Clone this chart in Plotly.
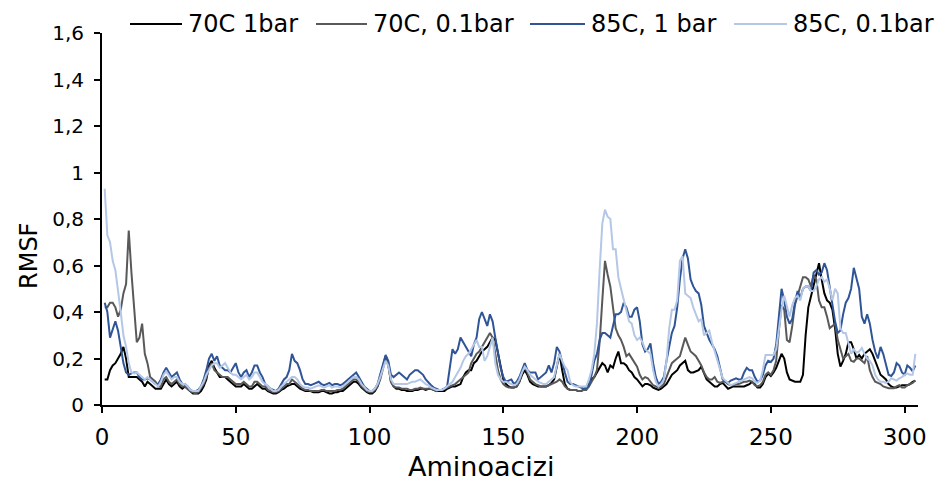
import plotly.graph_objects as go

residues = list(range(1, 305))

rmsf_70c_1bar = [
    0.11, 0.11, 0.15, 0.17, 0.18, 0.20, 0.22, 0.25, 0.20, 0.12,
    0.12, 0.12, 0.12, 0.11, 0.10, 0.08, 0.10, 0.09, 0.08, 0.07,
    0.07, 0.07, 0.09, 0.11, 0.09, 0.08, 0.09, 0.10, 0.08, 0.07,
    0.08, 0.07, 0.06, 0.05, 0.05, 0.05, 0.06, 0.08, 0.11, 0.17,
    0.19, 0.16, 0.14, 0.12, 0.12, 0.12, 0.11, 0.10, 0.09, 0.08,
    0.08, 0.08, 0.09, 0.08, 0.07, 0.07, 0.08, 0.09, 0.08, 0.07,
    0.07, 0.06, 0.055, 0.05, 0.05, 0.055, 0.065, 0.07, 0.08, 0.085,
    0.09, 0.09, 0.08, 0.07, 0.065, 0.06, 0.06, 0.06, 0.055, 0.055,
    0.055, 0.06, 0.06, 0.055, 0.05, 0.05, 0.055, 0.055, 0.06, 0.06,
    0.07, 0.08, 0.09, 0.10, 0.10, 0.09, 0.075, 0.065, 0.055, 0.05,
    0.05, 0.06, 0.08, 0.12, 0.17, 0.21, 0.18, 0.10, 0.08, 0.07,
    0.07, 0.065, 0.065, 0.06, 0.06, 0.06, 0.065, 0.065, 0.07, 0.07,
    0.065, 0.07, 0.07, 0.065, 0.06, 0.06, 0.06, 0.06, 0.07, 0.075,
    0.08, 0.08, 0.085, 0.09, 0.12, 0.14, 0.15, 0.15, 0.18, 0.19,
    0.21, 0.23, 0.24, 0.25, 0.27, 0.29, 0.28, 0.22, 0.17, 0.11,
    0.09, 0.08, 0.075, 0.075, 0.08, 0.10, 0.13, 0.15, 0.13, 0.10,
    0.09, 0.085, 0.08, 0.08, 0.08, 0.08, 0.085, 0.095, 0.11, 0.17,
    0.22, 0.15, 0.09, 0.07, 0.065, 0.065, 0.065, 0.06, 0.06, 0.065,
    0.07, 0.09, 0.11, 0.12, 0.14, 0.16, 0.18, 0.17, 0.14, 0.17,
    0.16, 0.20, 0.23, 0.18, 0.18, 0.17, 0.15, 0.14, 0.12, 0.11,
    0.095, 0.08, 0.09, 0.09, 0.085, 0.075, 0.07, 0.065, 0.07, 0.08,
    0.09, 0.11, 0.13, 0.14, 0.15, 0.17, 0.18, 0.19, 0.15, 0.14,
    0.14, 0.145, 0.15, 0.165, 0.14, 0.11, 0.10, 0.09, 0.08, 0.08,
    0.09, 0.095, 0.08, 0.07, 0.075, 0.08, 0.08, 0.08, 0.08, 0.08,
    0.085, 0.09, 0.10, 0.09, 0.075, 0.075, 0.09, 0.12, 0.135, 0.125,
    0.14, 0.16, 0.19, 0.22, 0.20, 0.14, 0.11, 0.105, 0.10, 0.10,
    0.10, 0.13, 0.30, 0.42, 0.47, 0.51, 0.57, 0.61, 0.54, 0.48,
    0.45, 0.44, 0.41, 0.33, 0.22, 0.165, 0.19, 0.22, 0.27, 0.27,
    0.24, 0.20, 0.215, 0.20, 0.22, 0.23, 0.24, 0.22, 0.19, 0.16,
    0.13, 0.12, 0.11, 0.09, 0.08, 0.075, 0.075, 0.08, 0.085, 0.085,
    0.085, 0.09, 0.10, 0.105,
]

rmsf_70c_01bar = [
    0.42, 0.42, 0.44, 0.44, 0.42, 0.38, 0.41, 0.48, 0.52, 0.75,
    0.57, 0.40, 0.27, 0.29, 0.35, 0.22, 0.18, 0.12, 0.11, 0.10,
    0.08, 0.08, 0.11, 0.12, 0.10, 0.09, 0.10, 0.11, 0.09, 0.08,
    0.08, 0.07, 0.06, 0.055, 0.05, 0.055, 0.07, 0.09, 0.12, 0.16,
    0.18, 0.15, 0.14, 0.13, 0.12, 0.12, 0.12, 0.11, 0.10, 0.09,
    0.09, 0.09, 0.10, 0.09, 0.08, 0.08, 0.10, 0.10, 0.09, 0.08,
    0.08, 0.065, 0.06, 0.055, 0.055, 0.06, 0.07, 0.08, 0.09, 0.09,
    0.11, 0.10, 0.09, 0.08, 0.07, 0.065, 0.065, 0.06, 0.06, 0.06,
    0.06, 0.065, 0.065, 0.06, 0.06, 0.06, 0.06, 0.065, 0.065, 0.07,
    0.08, 0.09, 0.10, 0.11, 0.11, 0.10, 0.08, 0.07, 0.06, 0.055,
    0.055, 0.065, 0.08, 0.11, 0.16, 0.20, 0.17, 0.10, 0.08, 0.075,
    0.075, 0.07, 0.07, 0.07, 0.065, 0.065, 0.07, 0.07, 0.075, 0.07,
    0.07, 0.07, 0.07, 0.065, 0.06, 0.065, 0.065, 0.07, 0.075, 0.08,
    0.085, 0.09, 0.10, 0.11, 0.12, 0.13, 0.14, 0.18, 0.20, 0.22,
    0.23, 0.25, 0.27, 0.29, 0.31, 0.29, 0.22, 0.15, 0.11, 0.09,
    0.08, 0.075, 0.075, 0.075, 0.08, 0.10, 0.14, 0.165, 0.14, 0.11,
    0.10, 0.09, 0.085, 0.08, 0.08, 0.08, 0.085, 0.09, 0.095, 0.10,
    0.11, 0.10, 0.08, 0.07, 0.065, 0.065, 0.065, 0.06, 0.06, 0.065,
    0.065, 0.08, 0.10, 0.12, 0.15, 0.27, 0.45, 0.62, 0.56, 0.51,
    0.42, 0.33, 0.30, 0.28, 0.25, 0.21, 0.22, 0.20, 0.18, 0.165,
    0.13, 0.11, 0.12, 0.115, 0.10, 0.085, 0.08, 0.075, 0.08, 0.09,
    0.12, 0.15, 0.18, 0.19, 0.20, 0.21, 0.25, 0.29, 0.26, 0.23,
    0.22, 0.21, 0.19, 0.17, 0.14, 0.12, 0.11, 0.11, 0.12, 0.10,
    0.095, 0.10, 0.10, 0.09, 0.085, 0.085, 0.09, 0.09, 0.095, 0.10,
    0.10, 0.105, 0.10, 0.085, 0.08, 0.085, 0.10, 0.13, 0.14, 0.13,
    0.15, 0.19, 0.32, 0.43, 0.41, 0.28, 0.27, 0.34, 0.43, 0.47,
    0.52, 0.55, 0.55, 0.54, 0.51, 0.56, 0.54, 0.45, 0.42, 0.42,
    0.38, 0.33, 0.34, 0.35, 0.28, 0.24, 0.20, 0.21, 0.22, 0.19,
    0.186, 0.20, 0.20, 0.19, 0.18, 0.21, 0.15, 0.12, 0.10, 0.095,
    0.09, 0.08, 0.075, 0.072, 0.072, 0.072, 0.08, 0.085, 0.075, 0.075,
    0.085, 0.09, 0.095, 0.105,
]

rmsf_85c_1bar = [
    0.44, 0.40, 0.29, 0.33, 0.36, 0.32, 0.25, 0.18, 0.14, 0.13,
    0.136, 0.14, 0.14, 0.12, 0.11, 0.11, 0.115, 0.11, 0.10, 0.09,
    0.09, 0.11, 0.14, 0.16, 0.14, 0.12, 0.13, 0.14, 0.11, 0.09,
    0.09, 0.08, 0.065, 0.06, 0.06, 0.065, 0.08, 0.11, 0.15, 0.20,
    0.22, 0.19, 0.21, 0.17, 0.16, 0.15, 0.15, 0.14, 0.16, 0.18,
    0.14, 0.12, 0.14, 0.15, 0.12, 0.14, 0.17, 0.17, 0.14, 0.12,
    0.09, 0.08, 0.07, 0.065, 0.06, 0.07, 0.09, 0.11, 0.12, 0.15,
    0.22, 0.19, 0.18, 0.15, 0.11, 0.09, 0.09, 0.085, 0.09, 0.095,
    0.10, 0.09, 0.085, 0.09, 0.095, 0.085, 0.09, 0.09, 0.085, 0.09,
    0.10, 0.11, 0.12, 0.13, 0.14, 0.12, 0.10, 0.08, 0.07, 0.06,
    0.06, 0.07, 0.09, 0.13, 0.18, 0.215, 0.19, 0.13, 0.12, 0.13,
    0.14, 0.13, 0.12, 0.11, 0.13, 0.14, 0.15, 0.15, 0.14, 0.13,
    0.11, 0.095, 0.085, 0.075, 0.07, 0.065, 0.065, 0.07, 0.08, 0.15,
    0.24, 0.22, 0.24, 0.29, 0.27, 0.25, 0.23, 0.21, 0.26, 0.29,
    0.37, 0.40, 0.37, 0.34, 0.39, 0.36, 0.29, 0.22, 0.16, 0.12,
    0.10, 0.105, 0.11, 0.09, 0.10, 0.12, 0.15, 0.18, 0.15, 0.14,
    0.14, 0.14, 0.11, 0.12, 0.13, 0.14, 0.17, 0.14, 0.18, 0.25,
    0.23, 0.18, 0.14, 0.10, 0.09, 0.09, 0.085, 0.08, 0.075, 0.07,
    0.075, 0.08, 0.13, 0.19, 0.22, 0.28, 0.31, 0.31, 0.30, 0.29,
    0.34, 0.39, 0.39, 0.40, 0.44, 0.42, 0.38, 0.38, 0.41, 0.42,
    0.36, 0.26, 0.23, 0.24, 0.265, 0.18, 0.12, 0.09, 0.10, 0.12,
    0.19, 0.26, 0.31, 0.34, 0.42, 0.54, 0.63, 0.67, 0.63, 0.54,
    0.51, 0.49, 0.48, 0.43, 0.34, 0.31, 0.28, 0.26, 0.24, 0.21,
    0.16, 0.11, 0.10, 0.095, 0.105, 0.11, 0.115, 0.11, 0.11, 0.14,
    0.16, 0.15, 0.15, 0.12, 0.10, 0.105, 0.13, 0.17, 0.19, 0.185,
    0.20, 0.26, 0.37, 0.50, 0.45, 0.38, 0.35, 0.37, 0.44, 0.49,
    0.46, 0.50, 0.51, 0.51, 0.49, 0.57, 0.58, 0.56, 0.57, 0.61,
    0.58, 0.50, 0.43, 0.36, 0.31, 0.32, 0.39, 0.44, 0.46, 0.50,
    0.59, 0.55, 0.50, 0.38, 0.35, 0.39, 0.35, 0.28, 0.23, 0.20,
    0.25, 0.22, 0.17, 0.13, 0.125, 0.14, 0.18, 0.17, 0.14, 0.13,
    0.17, 0.16, 0.145, 0.17,
]

rmsf_85c_01bar = [
    0.93, 0.73, 0.70, 0.62, 0.58, 0.50, 0.40, 0.30, 0.25, 0.18,
    0.14, 0.136, 0.14, 0.13, 0.12, 0.11, 0.12, 0.11, 0.10, 0.09,
    0.08, 0.10, 0.13, 0.145, 0.13, 0.11, 0.12, 0.12, 0.10, 0.09,
    0.09, 0.08, 0.065, 0.06, 0.06, 0.06, 0.08, 0.10, 0.13, 0.15,
    0.17, 0.18, 0.18, 0.16, 0.17, 0.18, 0.16, 0.14, 0.13, 0.13,
    0.12, 0.11, 0.12, 0.13, 0.11, 0.12, 0.14, 0.14, 0.12, 0.10,
    0.09, 0.08, 0.07, 0.06, 0.06, 0.065, 0.08, 0.09, 0.10, 0.11,
    0.12, 0.12, 0.11, 0.09, 0.08, 0.075, 0.075, 0.07, 0.075, 0.08,
    0.085, 0.08, 0.075, 0.08, 0.085, 0.075, 0.08, 0.08, 0.075, 0.08,
    0.09, 0.10, 0.11, 0.12, 0.12, 0.11, 0.09, 0.075, 0.065, 0.06,
    0.06, 0.07, 0.09, 0.12, 0.16, 0.19, 0.17, 0.11, 0.09, 0.09,
    0.09, 0.09, 0.09, 0.09, 0.095, 0.10, 0.10, 0.105, 0.11, 0.10,
    0.09, 0.085, 0.075, 0.07, 0.065, 0.065, 0.065, 0.07, 0.08, 0.09,
    0.10, 0.12, 0.14, 0.16, 0.19, 0.21, 0.22, 0.24, 0.26, 0.28,
    0.25, 0.25, 0.19, 0.21, 0.25, 0.29, 0.18, 0.13, 0.11, 0.10,
    0.10, 0.095, 0.09, 0.085, 0.09, 0.11, 0.14, 0.165, 0.15, 0.13,
    0.12, 0.11, 0.10, 0.095, 0.09, 0.09, 0.10, 0.11, 0.12, 0.17,
    0.22, 0.19, 0.165, 0.15, 0.10, 0.085, 0.08, 0.08, 0.08, 0.08,
    0.08, 0.11, 0.15, 0.22, 0.35, 0.58, 0.78, 0.84, 0.81, 0.80,
    0.67, 0.67, 0.55, 0.50, 0.45, 0.40, 0.36, 0.35, 0.30, 0.28,
    0.29, 0.27, 0.24, 0.23, 0.22, 0.15, 0.10, 0.08, 0.09, 0.11,
    0.19, 0.33, 0.41, 0.41, 0.45, 0.62, 0.64, 0.48, 0.47, 0.46,
    0.42, 0.39, 0.36, 0.37, 0.30, 0.31, 0.32, 0.27, 0.23, 0.19,
    0.15, 0.115, 0.105, 0.095, 0.085, 0.09, 0.095, 0.10, 0.105, 0.11,
    0.115, 0.12, 0.115, 0.10, 0.095, 0.105, 0.15, 0.215, 0.215, 0.215,
    0.215, 0.24, 0.33, 0.41, 0.47, 0.42, 0.38, 0.43, 0.46, 0.47,
    0.45, 0.50, 0.51, 0.51, 0.49, 0.49, 0.51, 0.54, 0.55, 0.53,
    0.54, 0.50, 0.45, 0.50, 0.48, 0.33, 0.31, 0.31, 0.27, 0.22,
    0.24, 0.225, 0.23, 0.245, 0.22, 0.20, 0.19, 0.17, 0.13, 0.11,
    0.10, 0.10, 0.095, 0.10, 0.115, 0.11, 0.105, 0.115, 0.12, 0.13,
    0.135, 0.13, 0.13, 0.22,
]

series_names = ["70C 1bar", "70C, 0.1bar", "85C, 1 bar", "85C, 0.1bar"]
series_values = [rmsf_70c_1bar, rmsf_70c_01bar, rmsf_85c_1bar, rmsf_85c_01bar]
series_colors = ["#000000", "#595959", "#2F5597", "#B4C7E7"]

y_tick_vals = [0, 0.2, 0.4, 0.6, 0.8, 1.0, 1.2, 1.4, 1.6]
y_tick_text = ["0", "0,2", "0,4", "0,6", "0,8", "1", "1,2", "1,4", "1,6"]
x_tick_vals = [0, 50, 100, 150, 200, 250, 300]

for v in series_values:
    assert len(v) == len(residues), len(v)

font_family = "DejaVu Sans, Verdana, sans-serif"

# figure geometry (pixels)
W, H = 935, 484
ML, MR, MT, MB = 102, 17, 33, 79
PW, PH = W - ML - MR, H - MT - MB


def px_to_paper_x(px):
    return (px - ML) / PW


def px_to_paper_y(py):
    return (H - MB - py) / PH


fig = go.Figure()
for name, vals, col in zip(series_names, series_values, series_colors):
    fig.add_trace(go.Scatter(
        x=residues, y=vals, mode="lines", name=name,
        line=dict(color=col, width=2), showlegend=False,
    ))

# manual legend (line sample + label), laid out like the original
legend_line_px = [(130, 182), (316, 367), (530, 585), (734, 787)]
legend_y_px = 24
shapes = []
annotations = []
for (x0, x1), name, col in zip(legend_line_px, series_names, series_colors):
    shapes.append(dict(
        type="line", xref="paper", yref="paper",
        x0=px_to_paper_x(x0), x1=px_to_paper_x(x1),
        y0=px_to_paper_y(legend_y_px), y1=px_to_paper_y(legend_y_px),
        line=dict(color=col, width=2),
    ))
    annotations.append(dict(
        text=name, xref="paper", yref="paper",
        x=px_to_paper_x(x1 + 4), y=px_to_paper_y(legend_y_px),
        xanchor="left", yanchor="middle", showarrow=False,
        font=dict(size=24, family=font_family, color="#000000"),
    ))

# axis titles
annotations.append(dict(
    text="Aminoacizi", xref="paper", yref="paper",
    x=px_to_paper_x(481), y=px_to_paper_y(466),
    xanchor="center", yanchor="middle", showarrow=False,
    font=dict(size=27, family=font_family, color="#000000"),
))
annotations.append(dict(
    text="RMSF", xref="paper", yref="paper",
    x=px_to_paper_x(29), y=px_to_paper_y(256), textangle=-90,
    xanchor="center", yanchor="middle", showarrow=False,
    font=dict(size=24, family=font_family, color="#000000"),
))

fig.update_layout(
    width=W, height=H,
    margin=dict(l=ML, r=MR, t=MT, b=MB, autoexpand=False),
    paper_bgcolor="white", plot_bgcolor="white",
    font=dict(family=font_family, color="#000000"),
    showlegend=False,
    shapes=shapes,
    annotations=annotations,
    xaxis=dict(
        range=[0, 305], tickvals=x_tick_vals,
        showgrid=False, zeroline=False,
        showline=True, linecolor="#000000", linewidth=2,
        ticks="outside", ticklen=6, tickwidth=1.5, tickcolor="#000000",
        tickfont=dict(size=23, family=font_family),
        ticklabelstandoff=4,
    ),
    yaxis=dict(
        range=[0, 1.6], tickvals=y_tick_vals, ticktext=y_tick_text,
        showgrid=False, zeroline=False,
        showline=True, linecolor="#000000", linewidth=2,
        ticks="outside", ticklen=6, tickwidth=1.5, tickcolor="#000000",
        tickfont=dict(size=20, family=font_family),
        ticklabelstandoff=6,
    ),
)

fig.write_html("out.html")
